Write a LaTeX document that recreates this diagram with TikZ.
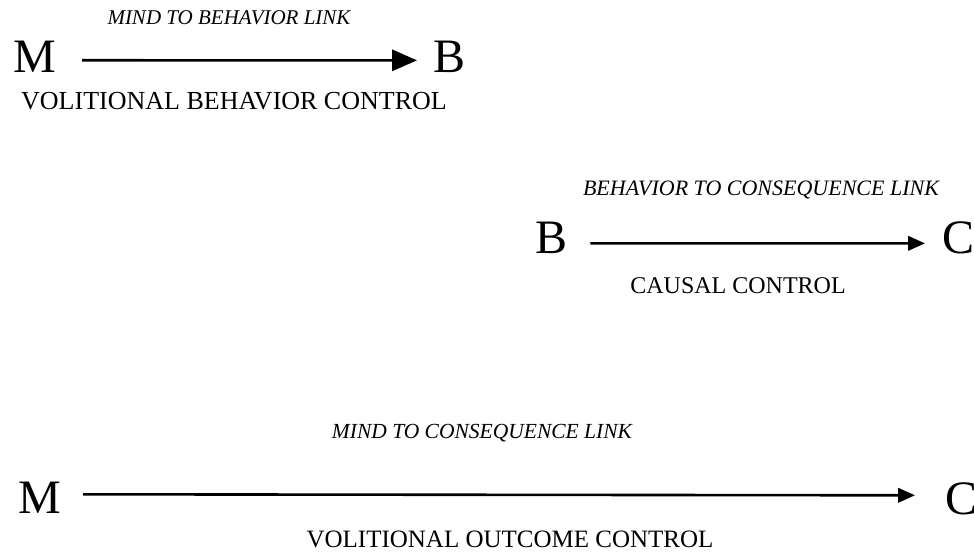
\documentclass[tikz,border=0pt]{standalone}
\usepackage{fontspec}
\setmainfont{Liberation Serif}
\usetikzlibrary{arrows.meta}
\tikzset{
  letter/.style={inner sep=0pt,anchor=base west,font=\fontsize{48}{48}\selectfont},
  linklabel/.style={inner sep=0pt,anchor=base,font=\fontsize{#1}{#1}\selectfont\itshape},
  control/.style={inner sep=0pt,anchor=base,font=\fontsize{#1}{#1}\selectfont},
  link/.style={line width=2.6pt,-{Triangle[length=#1,width=0.85*#1]}},
  link/.default=17pt
}
\begin{document}
\begin{tikzpicture}[x=1pt,y=-1pt]
  \useasboundingbox (0,0) rectangle (974,559);
  % mind -> behavior
  \node[linklabel=21] (lab1) at (229,25) {MIND TO BEHAVIOR LINK};
  \node[letter] (M1) at (13,73) {M};
  \node[letter] (B1) at (433,73) {B};
  \node[control=26] (ctl1) at (234,110) {VOLITIONAL BEHAVIOR CONTROL};
  \draw[link=25pt,shorten <=26pt,shorten >=16pt] ([yshift=-3pt]M1.east) -- ([yshift=-3pt]B1.west);
  % behavior -> consequence
  \node[linklabel=22] (lab2) at (761,195) {BEHAVIOR TO CONSEQUENCE LINK};
  \node[letter] (B2) at (535,253) {B};
  \node[letter] (C2) at (942,253) {C};
  \node[control=24] (ctl2) at (738,293) {CAUSAL CONTROL};
  \draw[link,shorten <=23pt,shorten >=17pt] ([yshift=-6pt]B2.east) -- ([yshift=-6pt]C2.west);
  % mind -> consequence
  \node[linklabel=21.5] (lab3) at (482,438) {MIND TO CONSEQUENCE LINK};
  \node[letter] (M3) at (18,513) {M};
  \node[letter] (C3) at (945,514) {C};
  \node[control=25] (ctl3) at (510,547) {VOLITIONAL OUTCOME CONTROL};
  \draw[link,shorten <=22pt,shorten >=30pt] ([yshift=3pt]M3.east) -- ([yshift=3pt]C3.west);
\end{tikzpicture}
\end{document}
